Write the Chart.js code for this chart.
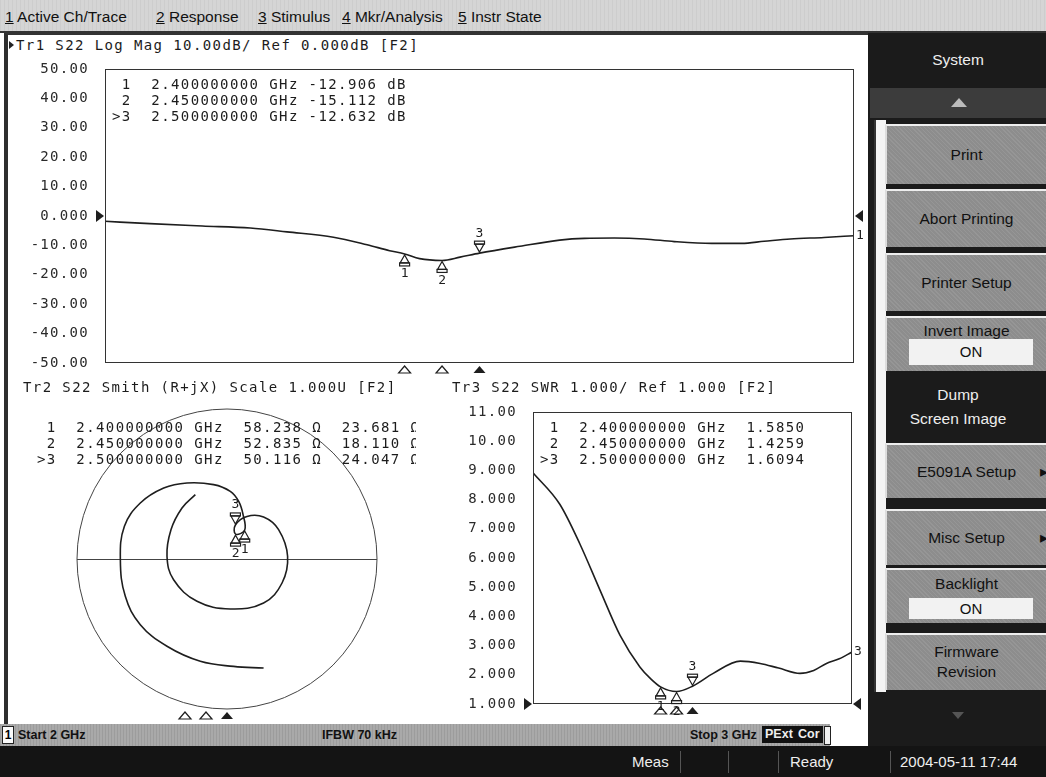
<!DOCTYPE html>
<html>
<head>
<meta charset="utf-8">
<script src="https://cdn.jsdelivr.net/npm/chart.js@4.4.1/dist/chart.umd.min.js"></script>
<style>
body { margin:0; width:1046px; height:777px; overflow:hidden; position:relative; background:#fff; font-family:'Liberation Sans', Arial, sans-serif; }
.abs { position:absolute; }
.mono { position:absolute; font-family:'DejaVu Sans Mono', monospace; font-size:14px; letter-spacing:1.4px; line-height:16px; white-space:pre; color:#1c1c1c; }
#menubar { left:0; top:0; width:1046px; height:31px; background:#d5d5d5; border-bottom:2px solid #333;
  background-image:repeating-linear-gradient(90deg, rgba(0,0,0,.04) 0 1px, transparent 1px 4px); }
.menu { position:absolute; top:8px; font-size:15.5px; line-height:18px; color:#111; white-space:pre; }
.menu u { text-decoration:underline; }
#frame { left:4px; top:33px; width:862px; height:691px; border-left:4px solid #2e2e2e; border-top:2px solid #333; background:#fff; }
#soft { left:868px; top:33px; width:178px; height:713px; background:#1b1b1b; }
.key { position:absolute; left:885px; width:161px; background:#8d8d8d; border-top:2px solid #eee; border-left:2px solid #ddd;
  box-sizing:border-box; color:#111; font-size:15.5px; text-align:center;
  background-image:repeating-linear-gradient(45deg, rgba(255,255,255,.08) 0 1px, transparent 1px 3px); }
.on { position:absolute; left:22px; width:124px; background:#f2f2f2; color:#111; font-size:15px; text-align:center; }
.dark { position:absolute; left:870px; width:176px; color:#eee; font-size:15.5px; text-align:center; }
#status { left:0; top:724px; width:830px; height:22px; background:#a9a9a9;
  background-image:repeating-linear-gradient(90deg, rgba(0,0,0,.08) 0 1px, transparent 1px 3px); }
.st { position:absolute; top:3px; font-size:12.5px; font-weight:bold; color:#111; line-height:16px; white-space:pre; }
.box { position:absolute; top:2px; height:17px; background:#111; color:#eee; font-size:12.5px; line-height:17px; padding:0 3px; font-weight:bold; }
#bottom { left:0; top:746px; width:1046px; height:31px; background:#141414; }
.bt { position:absolute; top:8px; color:#eee; font-size:15px; line-height:16px; white-space:pre; }
.sep { position:absolute; top:5px; width:1px; height:22px; background:#555; }
canvas { position:absolute; }
</style>
</head>
<body>
<div id="menubar" class="abs">
  <div class="menu" style="left:5px"><u>1</u> Active Ch/Trace</div>
  <div class="menu" style="left:156px"><u>2</u> Response</div>
  <div class="menu" style="left:258px"><u>3</u> Stimulus</div>
  <div class="menu" style="left:342px"><u>4</u> Mkr/Analysis</div>
  <div class="menu" style="left:458px"><u>5</u> Instr State</div>
</div>
<div id="frame" class="abs"></div>

<div id="soft" class="abs"></div>
<div class="abs" style="left:874px;top:120px;width:10px;height:572px;background:#f4f4f4;border-left:2px solid #333;"></div>
<div class="dark" style="top:50px;line-height:20px;">System</div>
<div class="abs" style="left:870px;top:88px;width:176px;height:30px;background:#3c3c3c;"></div>
<div class="abs" style="left:951px;top:98px;width:0;height:0;border-left:8px solid transparent;border-right:8px solid transparent;border-bottom:9px solid #bbb;"></div>
<div class="key" style="top:124px;height:60px;line-height:58px;">Print</div>
<div class="key" style="top:189px;height:58px;line-height:56px;">Abort Printing</div>
<div class="key" style="top:253px;height:58px;line-height:56px;">Printer Setup</div>
<div class="key" style="top:316px;height:55px;"><div style="line-height:16px;margin-top:5px;">Invert Image</div><div class="on" style="top:21px;height:26px;line-height:26px;">ON</div></div>
<div class="dark" style="top:383px;line-height:24px;">Dump<br>Screen Image</div>
<div class="key" style="top:443px;height:55px;line-height:53px;">E5091A Setup<span style="position:absolute;right:-2px;top:0;">&#9656;</span></div>
<div class="key" style="top:509px;height:56px;line-height:54px;">Misc Setup<span style="position:absolute;right:-2px;top:0;">&#9656;</span></div>
<div class="key" style="top:568px;height:55px;"><div style="line-height:16px;margin-top:6px;">Backlight</div><div class="on" style="top:28px;height:21px;line-height:21px;">ON</div></div>
<div class="key" style="top:633px;height:57px;line-height:20px;padding-top:7px;">Firmware<br>Revision</div>
<div class="abs" style="left:952px;top:712px;width:0;height:0;border-left:6px solid transparent;border-right:6px solid transparent;border-top:7px solid #555;"></div>

<div id="status" class="abs">
  <div class="abs" style="left:2px;top:2px;width:10px;height:16px;background:#fafafa;border:1px solid #222;font-size:12px;line-height:16px;text-align:center;font-weight:bold;">1</div>
  <div class="st" style="left:18px">Start 2 GHz</div>
  <div class="st" style="left:322px">IFBW 70 kHz</div>
  <div class="st" style="left:690px">Stop 3 GHz</div>
  <div class="box" style="left:762px">PExt</div>
  <div class="box" style="left:795px">Cor</div>
  <div class="abs" style="left:824px;top:2px;width:5px;height:17px;background:#f0f0f0;border:1px solid #222;"></div>
</div>
<div id="bottom" class="abs">
  <div class="bt" style="left:632px">Meas</div>
  <div class="sep" style="left:680px"></div>
  <div class="sep" style="left:728px"></div>
  <div class="sep" style="left:778px"></div>
  <div class="bt" style="left:790px">Ready</div>
  <div class="sep" style="left:890px"></div>
  <div class="bt" style="left:900px">2004-05-11 17:44</div>
</div>

<canvas id="magChart" width="870" height="320" style="left:0;top:60px;"></canvas>
<canvas id="smithChart" width="420" height="330" style="left:17px;top:394px;"></canvas>
<canvas id="swrChart" width="430" height="325" style="left:440px;top:395px;"></canvas>

<div class="abs" style="left:9px;top:41px;width:0;height:0;border-top:4px solid transparent;border-bottom:4px solid transparent;border-left:5px solid #222;"></div>
<div class="mono" style="left:16px;top:37px;">Tr1 S22 Log Mag 10.00dB/ Ref 0.000dB [F2]</div>
<div class="mono" style="left:112px;top:76px;" id="magRead"></div>
<div class="mono" style="left:23px;top:379px;">Tr2 S22 Smith (R+jX) Scale 1.000U [F2]</div>
<div class="mono" style="left:37px;top:419px;width:379px;overflow:hidden;" id="smithRead"></div>
<div class="mono" style="left:452px;top:379px;">Tr3 S22 SWR 1.000/ Ref 1.000 [F2]</div>
<div class="mono" style="left:540px;top:419px;" id="swrRead"></div>

<script>
// barrido 2 GHz - 3 GHz
const startGHz = 2;
const stopGHz = 3;

// marcadores
const mkFreq = [2.4, 2.45, 2.5];
const mkNames = [' 1', ' 2', '>3'];
const mkFreqText = ['2.400000000', '2.450000000', '2.500000000'];

// Tr1 Log Mag (dB)
const magFreq = [2.0, 2.06, 2.13, 2.194, 2.243, 2.305, 2.35, 2.38, 2.4, 2.42, 2.45, 2.474, 2.5, 2.554, 2.607, 2.64, 2.68, 2.72, 2.76, 2.81, 2.85, 2.88, 2.915, 2.96, 3.0];
const magDb = [-1.8, -2.6, -3.4, -4.1, -5.4, -7.2, -9.8, -11.8, -12.906, -14.5, -15.112, -14.0, -12.632, -10.3, -8.2, -7.6, -7.5, -7.8, -8.7, -9.3, -9.3, -8.6, -7.8, -7.3, -6.7];
const magMkText = ['-12.906 dB', '-15.112 dB', '-12.632 dB'];
const magMkVal = [-12.906, -15.112, -12.632];
const magTicks = [50, 40, 30, 20, 10, 0, -10, -20, -30, -40, -50];
const magTickLabels = ['50.00', '40.00', '30.00', '20.00', '10.00', '0.000', '-10.00', '-20.00', '-30.00', '-40.00', '-50.00'];

// Tr3 SWR
const swrFreq = [2.0, 2.084, 2.147, 2.21, 2.273, 2.335, 2.37, 2.4, 2.45, 2.5, 2.565, 2.65, 2.712, 2.77, 2.837, 2.88, 2.92, 2.96, 3.0];
const swrVal = [8.92, 7.84, 6.48, 4.9, 3.35, 2.27, 1.85, 1.585, 1.426, 1.609, 2.05, 2.47, 2.39, 2.23, 2.05, 2.15, 2.39, 2.55, 2.78];
const swrMkText = ['1.5850', '1.4259', '1.6094'];
const swrMkVal = [1.585, 1.4259, 1.6094];
const swrTicks = [11, 10, 9, 8, 7, 6, 5, 4, 3, 2, 1];
const swrTickLabels = ['11.00', '10.00', '9.000', '8.000', '7.000', '6.000', '5.000', '4.000', '3.000', '2.000', '1.000'];

// Tr2 Smith (coeficiente de reflexion)
const gammaRe = [0.244, 0.044, -0.178, -0.4, -0.578, -0.678, -0.711, -0.684, -0.578, -0.422, -0.267, -0.089, 0.022, 0.078, 0.107, 0.118, 0.057, 0.056, 0.133, 0.244, 0.344, 0.404, 0.367, 0.244, 0.022, -0.2, -0.356, -0.4, -0.373, -0.3, -0.211];
const gammaIm = [-0.727, -0.716, -0.682, -0.582, -0.438, -0.249, -0.004, 0.218, 0.373, 0.473, 0.507, 0.496, 0.451, 0.384, 0.296, 0.193, 0.166, 0.227, 0.284, 0.28, 0.196, 0.018, -0.16, -0.293, -0.333, -0.282, -0.138, 0.018, 0.196, 0.34, 0.429];
const smithMkRe = [0.118, 0.057, 0.056];
const smithMkIm = [0.193, 0.166, 0.227];
const smithMkR = ['58.238 Ω', '52.835 Ω', '50.116 Ω'];
const smithMkX = ['23.681 Ω', '18.110 Ω', '24.047 Ω'];

const activeMk = 2;
const mkUp = [true, true, false];

// lecturas de marcadores
document.querySelector('#magRead').textContent = mkNames.map((n, i) => `${n}  ${mkFreqText[i]} GHz ${magMkText[i]}`).join('\n');
document.querySelector('#swrRead').textContent = mkNames.map((n, i) => `${n}  ${mkFreqText[i]} GHz  ${swrMkText[i]}`).join('\n');
document.querySelector('#smithRead').textContent = mkNames.map((n, i) => `${n}  ${mkFreqText[i]} GHz  ${smithMkR[i]}  ${smithMkX[i]}`).join('\n');

Chart.defaults.font.family = "'DejaVu Sans Mono', monospace";
Chart.defaults.font.size = 14;
Chart.defaults.color = '#222';
Chart.defaults.animation = false;

const ink = '#1e1e1e';

function tri(ctx, x1, y1, x2, y2, x3, y3, fill) {
    ctx.beginPath();
    ctx.moveTo(x1, y1); ctx.lineTo(x2, y2); ctx.lineTo(x3, y3); ctx.closePath();
    if (fill) ctx.fill(); else ctx.stroke();
}

// marcador sobre la traza
function drawMarker(ctx, x, y, up, label) {
    ctx.save();
    ctx.strokeStyle = ink; ctx.fillStyle = ink; ctx.lineWidth = 1.2;
    ctx.font = "13px 'DejaVu Sans Mono'";
    ctx.textAlign = 'center'; ctx.textBaseline = 'middle';
    const s = up ? 1 : -1;
    tri(ctx, x, y + s, x - 4.5, y + s * 9, x + 4.5, y + s * 9);
    ctx.strokeRect(x - 5, up ? y + 9 : y - 12, 10, 3);
    ctx.fillText(label, x, y + s * 20);
    ctx.restore();
}

function drawStimulus(ctx, x, y, active) {
    ctx.save();
    ctx.strokeStyle = ink; ctx.fillStyle = ink; ctx.lineWidth = 1.2;
    tri(ctx, x, y, x - 6, y + 7, x + 6, y + 7, active);
    ctx.restore();
}

const spacing = {
    id: 'spacing',
    beforeDraw(chart) { chart.ctx.letterSpacing = '1.3px'; }
};

// marco, referencias y marcadores de las graficas rectangulares
const vna = {
    id: 'vna',
    afterDatasetsDraw(chart, args, o) {
        const { ctx, chartArea: a, scales: { x, y } } = chart;
        ctx.save();
        ctx.letterSpacing = '0px';
        ctx.strokeStyle = '#333'; ctx.lineWidth = 1;
        ctx.strokeRect(a.left + 0.5, a.top + 0.5, a.width - 1, a.height - 1);
        ctx.fillStyle = ink;
        const ry = y.getPixelForValue(o.refValue);
        tri(ctx, a.left - 9, ry - 6, a.left - 1, ry, a.left - 9, ry + 6, true);
        tri(ctx, a.right + 9, ry - 6, a.right + 1, ry, a.right + 9, ry + 6, true);
        o.mkVal.forEach((v, i) => {
            const px = x.getPixelForValue(mkFreq[i]);
            drawMarker(ctx, px, y.getPixelForValue(v), mkUp[i], String(i + 1));
            drawStimulus(ctx, px, a.bottom + 3, i === activeMk);
        });
        const last = chart.data.datasets[0].data.at(-1);
        ctx.font = "13px 'DejaVu Sans Mono'";
        ctx.textBaseline = 'middle';
        ctx.fillText(o.traceLabel, a.right + 2, y.getPixelForValue(last.y));
        ctx.restore();
    }
};

function rectOptions(ticks, labels, axisWidth, pad, refValue, mkVal, traceLabel) {
    return {
        responsive: false,
        layout: { padding: pad, autoPadding: false },
        plugins: { legend: { display: false }, tooltip: { enabled: false }, vna: { refValue, mkVal, traceLabel } },
        scales: {
            x: { type: 'linear', min: startGHz, max: stopGHz, display: false },
            y: {
                min: ticks[ticks.length - 1], max: ticks[0],
                grid: { display: false, drawTicks: true, tickLength: 16 }, border: { display: false },
                afterBuildTicks: (s) => { s.ticks = ticks.map((v) => ({ value: v })); },
                afterFit: (s) => { s.width = axisWidth; },
                ticks: { autoSkip: false, padding: 0, color: '#2a2a2a', callback: (v) => labels[ticks.indexOf(v)] }
            }
        }
    };
}

new Chart(document.getElementById('magChart'), {
    type: 'line',
    data: { datasets: [{ data: magFreq.map((f, i) => ({ x: f, y: magDb[i] })), borderColor: ink, borderWidth: 1.6, pointRadius: 0, cubicInterpolationMode: 'monotone' }] },
    options: rectOptions(magTicks, magTickLabels, 105, { top: 9, bottom: 17, right: 16, left: 0 }, 0, magMkVal, '1'),
    plugins: [spacing, vna]
});

new Chart(document.getElementById('swrChart'), {
    type: 'line',
    data: { datasets: [{ data: swrFreq.map((f, i) => ({ x: f, y: swrVal[i] })), borderColor: ink, borderWidth: 1.6, pointRadius: 0, cubicInterpolationMode: 'monotone' }] },
    options: rectOptions(swrTicks, swrTickLabels, 93, { top: 17, bottom: 16, right: 18, left: 0 }, 1, swrMkVal, '3'),
    plugins: [spacing, vna]
});

// carta de Smith
const smith = {
    id: 'smith',
    beforeDatasetsDraw(chart) {
        const { ctx, scales: { x, y } } = chart;
        const cx = x.getPixelForValue(0), cy = y.getPixelForValue(0);
        const r = x.getPixelForValue(1) - cx;
        ctx.save();
        ctx.strokeStyle = '#444'; ctx.lineWidth = 1;
        ctx.beginPath(); ctx.arc(cx, cy, r, 0, Math.PI * 2); ctx.stroke();
        ctx.beginPath(); ctx.moveTo(cx - r, cy + 0.5); ctx.lineTo(cx + r, cy + 0.5); ctx.stroke();
        ctx.restore();
    },
    afterDatasetsDraw(chart) {
        const { ctx, chartArea: a, scales: { x, y } } = chart;
        smithMkRe.forEach((re, i) => {
            drawMarker(ctx, x.getPixelForValue(re), y.getPixelForValue(smithMkIm[i]), mkUp[i], String(i + 1));
            const px = a.left + (mkFreq[i] - startGHz) / (stopGHz - startGHz) * a.width;
            drawStimulus(ctx, px, a.bottom - 12, i === activeMk);
        });
    }
};

new Chart(document.getElementById('smithChart'), {
    type: 'scatter',
    data: { datasets: [{ data: gammaRe.map((g, i) => ({ x: g, y: gammaIm[i] })), showLine: true, borderColor: ink, borderWidth: 1.6, pointRadius: 0, tension: 0.4 }] },
    options: {
        responsive: false,
        layout: { padding: 0, autoPadding: false },
        plugins: { legend: { display: false }, tooltip: { enabled: false } },
        scales: {
            x: { type: 'linear', min: -1.4, max: 1.4, display: false },
            y: { type: 'linear', min: -1.1, max: 1.1, display: false }
        }
    },
    plugins: [smith]
});
</script>
</body>
</html>
